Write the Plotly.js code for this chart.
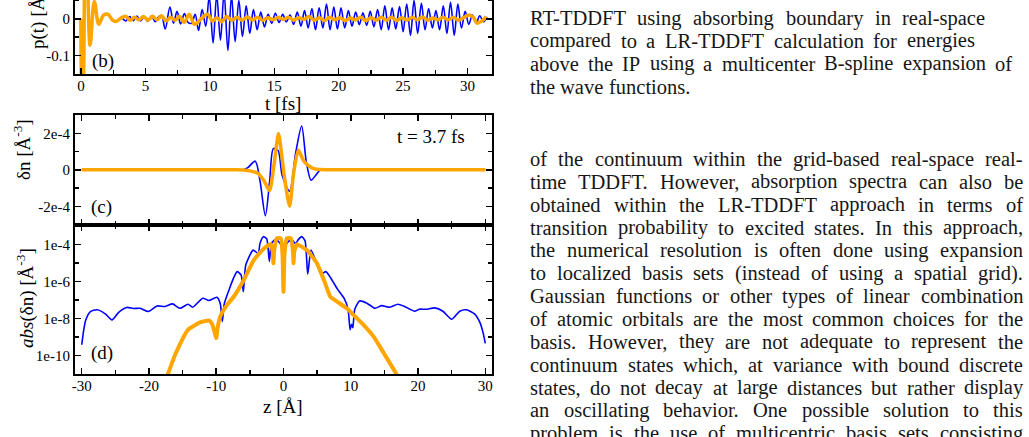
<!DOCTYPE html>
<html>
<head>
<meta charset="utf-8">
<script src="https://cdn.plot.ly/plotly-3.0.1.min.js"></script>
<style>
  html, body { margin: 0; padding: 0; overflow: hidden; background: #fff; width: 1029px; height: 437px; }
  #fig { position: absolute; left: 0; top: -50px; width: 1029px; height: 502px; }
</style>
</head>
<body>
<div id="fig"></div>
<script>
// ---------- panel (b): dipole p(t) [Å] vs time [fs] ----------
const rtTime = [3.20,3.48,3.77,4.05,4.33,4.62,4.90,5.18,5.47,5.75,6.03,6.25,6.53,6.90,7.18,7.45,7.73,8.02,8.30,8.58,8.86,9.12,9.40,9.68,9.95,10.25,10.53,10.82,11.10,11.40,11.68,11.96,12.25,12.53,12.82,13.10,13.38,13.67,13.95,14.24,14.52,14.80,15.08,15.37,15.65,15.93,16.22,16.50,16.78,17.07,17.35,17.63,17.92,18.20,18.48,18.77,19.05,19.33,19.62,19.90,20.18,20.47,20.75,21.03,21.32,21.60,21.88,22.17,22.45,22.73,23.02,23.30,23.58,23.87,24.15,24.43,24.72,25.00,25.28,25.57,25.85,26.13,26.42,26.70,26.98,27.27,27.55,27.83,28.12,28.40,28.68,28.97,29.25,29.53,29.82,30.10,30.38,30.67,30.95,31.23,31.50];
const rtDipole = [0.002,-0.006,0.006,-0.005,0.007,-0.006,0.005,-0.007,0.008,-0.008,0.006,0.008,-0.028,0.032,-0.012,0.020,-0.014,0.014,-0.010,-0.012,0.012,-0.032,0.025,-0.020,0.060,-0.066,0.065,-0.058,0.070,-0.086,0.062,-0.062,0.050,-0.048,0.035,-0.040,0.025,-0.030,0.018,-0.022,0.012,-0.012,0.015,-0.010,0.012,-0.008,0.010,-0.015,0.018,-0.020,0.022,-0.025,0.028,-0.030,0.030,-0.025,0.040,-0.030,0.032,-0.028,0.030,-0.025,0.022,-0.020,0.018,-0.016,0.016,-0.018,0.020,-0.022,0.025,-0.030,0.035,-0.030,0.030,-0.028,0.033,-0.035,0.040,-0.045,0.050,-0.040,0.042,-0.030,0.028,-0.025,0.022,-0.030,0.035,-0.040,0.045,-0.045,0.040,-0.025,0.020,-0.015,0.010,-0.012,0.008,-0.008,0.005];

const lrTime = [-0.02,0.12,0.38,0.70,1.03,1.38,1.75,2.10,2.45,2.75,3.10,3.45,3.80,4.15,4.50,4.85,5.20,5.55,5.90,6.25,6.60,6.95,7.30,7.65,8.00,8.40,8.80,9.15,9.50,9.85,10.20,10.55,10.90,11.30,11.70,12.10,12.50,12.90,13.30,13.70,14.10,14.50,14.90,15.30,15.70,16.10,16.50,16.90,17.30,17.70,18.10,18.50,18.90,19.30,19.70,20.10,20.50,20.90,21.30,21.70,22.10,22.50,22.90,23.30,23.70,24.10,24.50,24.90,25.30,25.70,26.10,26.50,26.90,27.30,27.70,28.10,28.50,28.90,29.30,29.70,30.10,30.45,30.75,31.10,31.45];
const lrDipole = [0.000,-0.400,0.300,-0.072,0.047,-0.015,0.010,0.012,-0.004,-0.007,0.002,0.007,-0.004,0.004,-0.003,0.006,-0.004,0.007,-0.003,0.008,-0.006,0.004,-0.004,0.006,-0.010,0.012,-0.015,-0.006,0.006,0.012,-0.006,0.003,-0.008,0.006,-0.004,0.004,-0.004,0.005,-0.003,0.004,-0.004,0.003,-0.003,0.004,-0.002,0.004,-0.004,0.003,-0.002,0.006,-0.004,0.003,-0.005,0.004,-0.003,0.003,-0.005,0.002,-0.003,0.004,-0.005,0.003,-0.004,0.004,-0.004,0.004,-0.005,0.003,-0.004,0.004,-0.003,0.005,-0.004,0.002,-0.003,0.004,-0.003,0.004,-0.004,0.003,0.010,0.004,-0.012,-0.006,0.006];

// ---------- panel (c): density change δn(z) at t = 3.7 fs ----------
const rtZc = [-30,-6.5,-6.0,-5.3,-4.2,-3.5,-2.7,-2.05,-1.5,-0.8,-0.2,0.9,1.8,2.7,3.4,4.1,4.8,5.5,6.2,30];
const rtDn = [0,0,0,0.12e-4,0.47e-4,-0.6e-4,-2.52e-4,-0.6e-4,1.16e-4,1.05e-4,-0.3e-4,-1.18e-4,0.9e-4,2.4e-4,0.4e-4,-0.57e-4,-0.3e-4,0,0,0];
const lrZc = [-30,-7.0,-6.0,-5.0,-3.8,-2.9,-2.07,-1.4,-0.74,0.1,0.9,1.5,2.2,2.9,3.6,4.4,5.4,6.5,30];
const lrDn = [0,0,-0.01e-4,-0.06e-4,-0.2e-4,-0.6e-4,-1.14e-4,0.3e-4,1.98e-4,-0.3e-4,-2.0e-4,-0.2e-4,1.08e-4,0.55e-4,0.25e-4,0.08e-4,0.01e-4,0,0];

// ---------- panel (d): |δn(z)| on a log scale ----------
const rtZd = [-30.0,-29.7,-29.4,-28.7,-27.7,-26.5,-25.5,-24.5,-23.3,-22.3,-21.3,-20.1,-18.8,-17.6,-16.5,-15.4,-14.2,-13.5,-12.0,-11.1,-9.9,-9.4,-9.1,-8.8,-8.1,-7.4,-6.9,-6.3,-5.97,-5.6,-4.5,-3.76,-3.5,-3.0,-2.5,-2.1,-1.8,-1.2,-0.6,0.0,0.6,1.2,1.8,2.2,2.7,3.2,3.6,4.1,5.0,5.6,6.3,7.0,8.0,9.0,9.6,9.9,10.1,10.3,10.6,11.3,12.4,13.6,14.6,15.8,17.0,18.0,19.5,20.2,21.2,22.5,23.7,25.0,26.2,27.2,28.4,29.2,29.7,30.0];
const rtAbsDn = [3.9e-10,2.5e-9,8.5e-9,2.4e-8,3.0e-8,1.8e-8,8.5e-9,2.2e-8,4.0e-8,3.5e-8,3.6e-8,2.4e-8,4.8e-8,4.5e-8,6.2e-8,3.6e-8,5.9e-8,4.1e-8,1.26e-7,9.5e-8,1.4e-7,6.3e-8,6.9e-9,6.3e-8,3.5e-7,1.6e-6,3.4e-6,2.2e-6,2.8e-7,7.9e-6,4.9e-5,3.2e-5,1.1e-4,2.6e-4,2.0e-4,1.2e-5,1.1e-4,1.8e-4,1.26e-4,6.3e-5,1.26e-4,1.8e-4,1.1e-4,1.8e-4,2.6e-4,1.6e-4,2.5e-6,4.9e-5,7.9e-6,2.5e-6,3.4e-6,1.6e-6,4.0e-7,1.26e-7,3.2e-8,2.5e-9,5.0e-9,3.2e-9,3.2e-8,8.9e-8,6.8e-8,3.6e-8,5.0e-8,4.1e-8,5.9e-8,4.5e-8,2.5e-8,3.2e-8,3.2e-8,3.8e-8,2.5e-8,9.3e-9,2.5e-8,3.0e-8,1.8e-8,6.3e-9,1.6e-9,4.6e-10];
const lrZd = [-17.5,-17.2,-16.0,-14.2,-12.4,-11.1,-10.6,-10.2,-10.0,-9.8,-9.4,-8.4,-7.4,-5.9,-4.4,-2.9,-1.9,-1.6,-1.5,-1.4,-1.0,-0.4,-0.15,0.0,0.15,0.5,1.1,1.4,1.5,1.6,2.0,3.47,4.97,6.2,6.97,7.96,9.4,10.4,11.9,13.4,14.9,16.8,17.2];
const lrAbsDn = [5e-12,1.0e-11,1.4e-10,2.5e-9,6.2e-9,7.9e-9,5.0e-9,1.6e-9,8.9e-10,3.2e-9,1.3e-8,5.5e-8,1.5e-7,1.2e-6,1.45e-5,6.0e-5,1.0e-4,4.0e-5,9.5e-6,4.0e-5,2.1e-4,2.1e-4,3e-5,2.8e-7,3e-5,2.1e-4,2.1e-4,4.0e-5,9.5e-6,4.0e-5,1.0e-4,4.9e-5,9.5e-6,7.9e-7,1.5e-7,8.3e-8,3.6e-8,1.6e-8,4.6e-9,1.07e-9,1.4e-10,1.0e-11,4e-12];

// tick labels
const tTicks = [0,5,10,15,20,25,30];
const tTickText = ['0','5','10','15','20','25','30'];
const pTicks = [-0.1,0,0.1];
const pTickText = ['-0.1','0','0.1'];
const zTicks = [-30,-20,-10,0,10,20,30];
const zTickText = ['-30','-20','-10','0','10','20','30'];
const dnTicks = [-2e-4,0,2e-4];
const dnTickText = ['-2e-4','0','2e-4'];
const absTicks = [1e-10,1e-8,1e-6,1e-4];
const absTickText = ['1e-10','1e-8','1e-6','1e-4'];

// running text beside the figure
const captionLines = [
  'RT-TDDFT using absorbing boundary in real-space',
  'compared to a LR-TDDFT calculation for energies',
  'above the IP using a multicenter B-spline expansion of',
  'the wave functions.'
];
const bodyLines = [
  'of the continuum within the grid-based real-space real-',
  'time TDDFT. However, absorption spectra can also be',
  'obtained within the LR-TDDFT approach in terms of',
  'transition probability to excited states. In this approach,',
  'the numerical resolution is often done using expansion',
  'to localized basis sets (instead of using a spatial grid).',
  'Gaussian functions or other types of linear combination',
  'of atomic orbitals are the most common choices for the',
  'basis. However, they are not adequate to represent the',
  'continuum states which, at variance with bound discrete',
  'states, do not decay at large distances but rather display',
  'an oscillating behavior.  One possible solution to this',
  'problem is the use of multicentric basis sets consisting'
];

// ---------- geometry helpers (page pixels -> paper fractions) ----------
const W = 1029, H = 502, SHIFT = 50;
const px = x => x / W;
const py = y => 1 - (y + SHIFT) / H;
const SERIF = 'Liberation Serif';
const BLUE = '#0000ff', ORANGE = '#ffa500';

const baseAxis = {
  showline: true, linewidth: 2, linecolor: '#000', mirror: 'allticks',
  ticks: 'inside', ticklen: 6, tickwidth: 1.5, tickcolor: '#000',
  showgrid: false, zeroline: false,
  tickfont: { family: SERIF, size: 15, color: '#000' },
  tickmode: 'array'
};
const minorStyle = { ticks: 'inside', ticklen: 4, tickwidth: 1.5, tickcolor: '#000', showgrid: false };
const xDom = [px(75), px(492)];

const traces = [
  { x: rtTime, y: rtDipole, xaxis: 'x', yaxis: 'y', mode: 'lines',
    line: { color: BLUE, width: 1.6, shape: 'spline' } },
  { x: lrTime, y: lrDipole, xaxis: 'x', yaxis: 'y', mode: 'lines',
    line: { color: ORANGE, width: 3.5, shape: 'spline' } },
  { x: rtZc, y: rtDn, xaxis: 'x2', yaxis: 'y2', mode: 'lines',
    line: { color: BLUE, width: 1.6, shape: 'spline', smoothing: 0.8 } },
  { x: lrZc, y: lrDn, xaxis: 'x2', yaxis: 'y2', mode: 'lines',
    line: { color: ORANGE, width: 3.5, shape: 'spline', smoothing: 0.6 } },
  { x: rtZd, y: rtAbsDn, xaxis: 'x3', yaxis: 'y3', mode: 'lines',
    line: { color: BLUE, width: 1.6, shape: 'spline', smoothing: 0.6 } },
  { x: lrZd, y: lrAbsDn, xaxis: 'x3', yaxis: 'y3', mode: 'lines',
    line: { color: ORANGE, width: 4, shape: 'spline', smoothing: 0.5 } }
];

const annotations = [];
function label(text, x, y, size, extra) {
  annotations.push(Object.assign({
    xref: 'paper', yref: 'paper', x: px(x), y: py(y), text: text, showarrow: false,
    xanchor: 'center', yanchor: 'middle', borderpad: 0, borderwidth: 0,
    font: { family: SERIF, size: size, color: '#000' }
  }, extra || {}));
}
// axis titles and panel tags
label('p(t) [Å]', 38, 20, 19, { textangle: -90 });
label('t [fs]', 283, 104, 19);
label('δn [Å<sup>-3</sup>]', 22, 150, 19, { textangle: -90 });
label('<i>abs</i>(δn) [Å<sup>-3</sup>]', 25, 298, 19, { textangle: -90 });
label('z [Å]', 283, 406, 19);
label('(b)', 103, 61, 19);
label('(c)', 101, 207, 19);
label('(d)', 102, 353, 19);
label('t = 3.7 fs', 431, 136, 19);

// text column, laid out word by word; each line spread to its right edge
const TEXT_LEFT = 530, LINE_STEP = 22.85, TEXT_SIZE = 20.5;
const captionRight = [985, 975, 1012, null];
const BODY_RIGHT = 1023;
const ctx = document.createElement('canvas').getContext('2d');
ctx.font = TEXT_SIZE + 'px "Liberation Serif"';
function placeLine(line, yImg, right) {
  const words = line.split(/\s+/);
  const widths = words.map(w => ctx.measureText(w).width);
  const total = widths.reduce((a, b) => a + b, 0);
  let gap = ctx.measureText(' ').width;
  if (right && words.length > 1) gap = (right - TEXT_LEFT - total) / (words.length - 1);
  let x = TEXT_LEFT;
  words.forEach((w, i) => {
    annotations.push({
      xref: 'paper', yref: 'paper', x: px(x), y: py(yImg), text: w, showarrow: false,
      xanchor: 'left', yanchor: 'middle', borderpad: 0, borderwidth: 0,
      font: { family: SERIF, size: TEXT_SIZE, color: '#161616' }
    });
    x += widths[i] + gap;
  });
}
captionLines.forEach((l, i) => placeLine(l, 18 + LINE_STEP * i, captionRight[i]));
bodyLines.forEach((l, i) => placeLine(l, 159 + LINE_STEP * i, BODY_RIGHT));

const layout = {
  width: W, height: H, margin: { l: 0, r: 0, t: 0, b: 0 },
  paper_bgcolor: '#fff', plot_bgcolor: '#fff', showlegend: false,
  font: { family: SERIF },
  xaxis: Object.assign({}, baseAxis, { domain: xDom, anchor: 'y', range: [-0.47, 31.9],
    tickvals: tTicks, ticktext: tTickText, ticklabelstandoff: -3,
    minor: Object.assign({ tickmode: 'array', tickvals: [2.5, 7.5, 12.5, 17.5, 22.5, 27.5] }, minorStyle) }),
  yaxis: Object.assign({}, baseAxis, { domain: [py(74), py(-36.5)], anchor: 'x', range: [-0.15, 0.15],
    tickvals: pTicks, ticktext: pTickText,
    minor: Object.assign({ tickmode: 'array', tickvals: [-0.05, 0.05] }, minorStyle) }),
  xaxis2: Object.assign({}, baseAxis, { domain: xDom, anchor: 'y2', range: [-31, 31],
    tickvals: zTicks, ticktext: zTickText, showticklabels: false,
    minor: Object.assign({ tickmode: 'array', tickvals: [-25, -15, -5, 5, 15, 25] }, minorStyle) }),
  yaxis2: Object.assign({}, baseAxis, { domain: [py(224.5), py(115)], anchor: 'x2', range: [-3e-4, 3e-4],
    tickvals: dnTicks, ticktext: dnTickText,
    minor: Object.assign({ tickmode: 'array', tickvals: [-1e-4, 1e-4] }, minorStyle) }),
  xaxis3: Object.assign({}, baseAxis, { domain: xDom, anchor: 'y3', range: [-31, 31],
    tickvals: zTicks, ticktext: zTickText, ticklabelstandoff: -3,
    minor: Object.assign({ tickmode: 'array', tickvals: [-25, -15, -5, 5, 15, 25] }, minorStyle) }),
  yaxis3: Object.assign({}, baseAxis, { domain: [py(374.3), py(224.5)], anchor: 'x3', type: 'log', range: [-11, -2.93],
    tickvals: absTicks, ticktext: absTickText,
    minor: Object.assign({ tickmode: 'array', tickvals: [1e-9, 1e-7, 1e-5, 1e-3] }, minorStyle) }),
  annotations: annotations
};

Plotly.newPlot('fig', traces, layout, { staticPlot: true, displayModeBar: false });
</script>
</body>
</html>
